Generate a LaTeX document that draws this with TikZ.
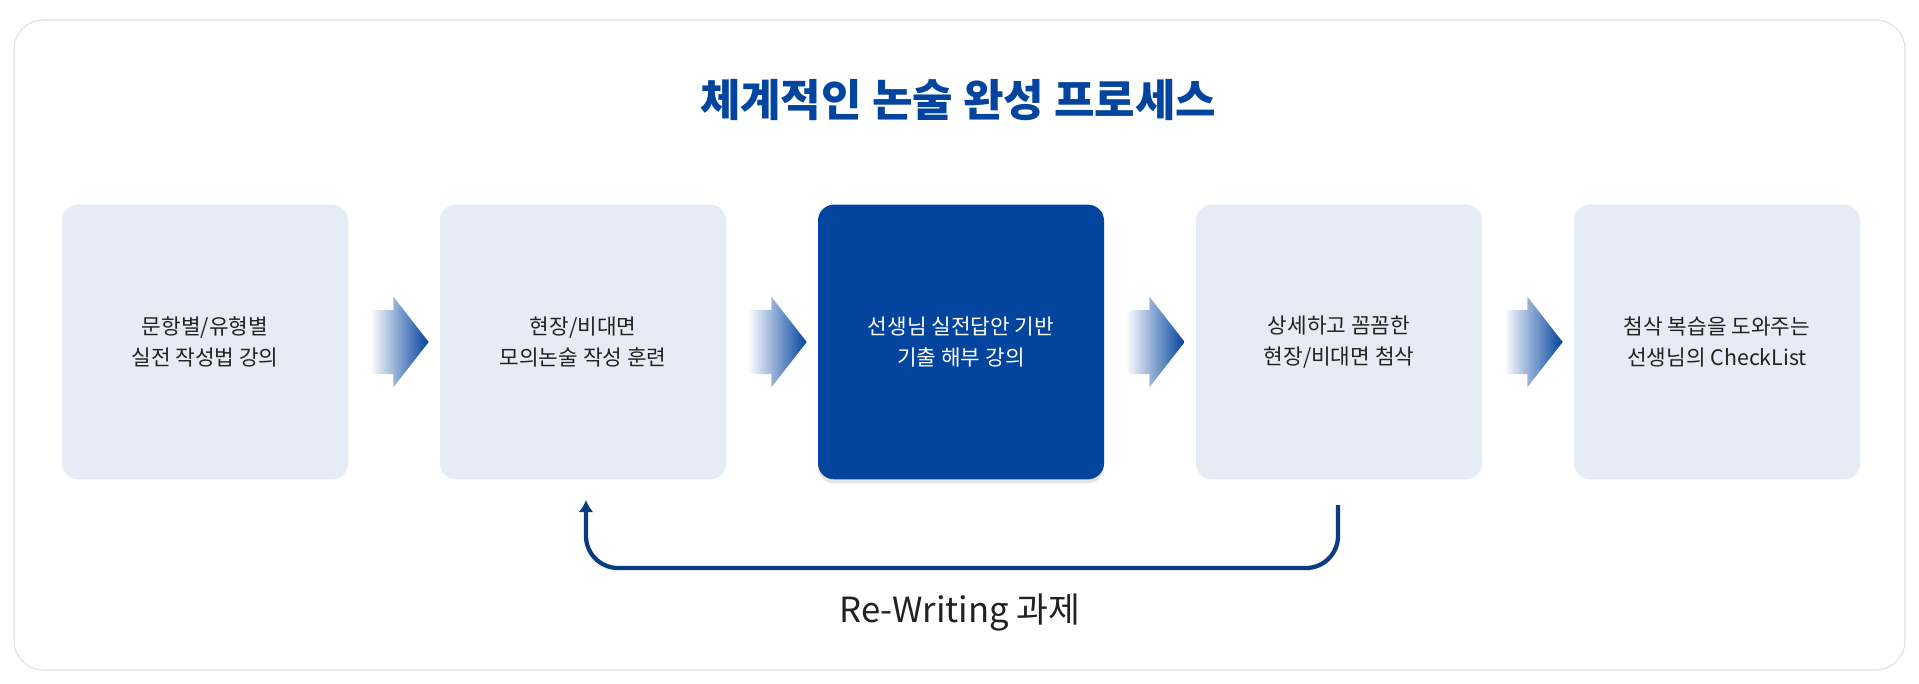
\documentclass[tikz,border=0pt]{standalone}
\usepackage{fontspec}
\setmainfont{Noto Sans CJK KR}
\usetikzlibrary{shadows,arrows.meta}
\definecolor{boxlight}{HTML}{E5ECF5}
\definecolor{navy}{HTML}{03449E}
\definecolor{loopc}{HTML}{0B3C82}
\definecolor{txt}{HTML}{222222}
\tikzset{
  stepbox/.style={fill=boxlight, rounded corners=12pt, minimum width=214.5pt, minimum height=206pt, align=center, font=\fontsize{16}{23}\selectfont, text=txt, inner sep=0pt},
}
\begin{document}
\begin{tikzpicture}[x=0.75pt,y=-0.75pt]
\useasboundingbox (0,0) rectangle (1919,684);
\draw[color=black!12, fill=white, line width=0.8pt, rounded corners=22pt] (14,20) rectangle (1905,670);
\node[font=\fontsize{33}{40}\selectfont\bfseries, text=navy] (title) at (958,100) {체계적인 논술 완성 프로세스};
\node[stepbox] (b1) at (205,342) {문항별/유형별\\실전 작성법 강의};
\node[stepbox] (b2) at (583,342) {현장/비대면\\모의논술 작성 훈련};
\node[stepbox, fill=navy, text=white, drop shadow={opacity=0.2, shadow xshift=0pt, shadow yshift=-3pt}] (b3) at (961,342) {선생님 실전답안 기반\\기출 해부 강의};
\node[stepbox] (b4) at (1339,342) {상세하고 꼼꼼한\\현장/비대면 첨삭};
\node[stepbox] (b5) at (1717,342) {첨삭 복습을 도와주는\\선생님의 CheckList};
\foreach \a/\b in {b1/b2,b2/b3,b3/b4,b4/b5}{
  \path (\a.east) -- (\b.west) coordinate[pos=0.5] (m);
  \shade[left color=white, right color=navy]
    ([xshift=-18pt, yshift=-24pt]m) -- ([xshift=-0.5pt, yshift=-24pt]m) -- ([xshift=-0.5pt, yshift=-34pt]m)
    -- ([xshift=26pt]m) -- ([xshift=-0.5pt, yshift=34pt]m) -- ([xshift=-0.5pt, yshift=24pt]m)
    -- ([xshift=-18pt, yshift=24pt]m) -- cycle;
}
\coordinate (ls) at (1338,505);
\coordinate (le) at (586,500);
\draw[loopc, line width=3.2pt, rounded corners=24pt, -{Latex[length=9pt,width=11pt]}]
  (ls) -- (1338,568) -- (586,568) -- (le);
\node[font=\fontsize{26}{32}\selectfont, text=txt] (lab) at (960,612) {Re-Writing 과제};
\end{tikzpicture}
\end{document}
